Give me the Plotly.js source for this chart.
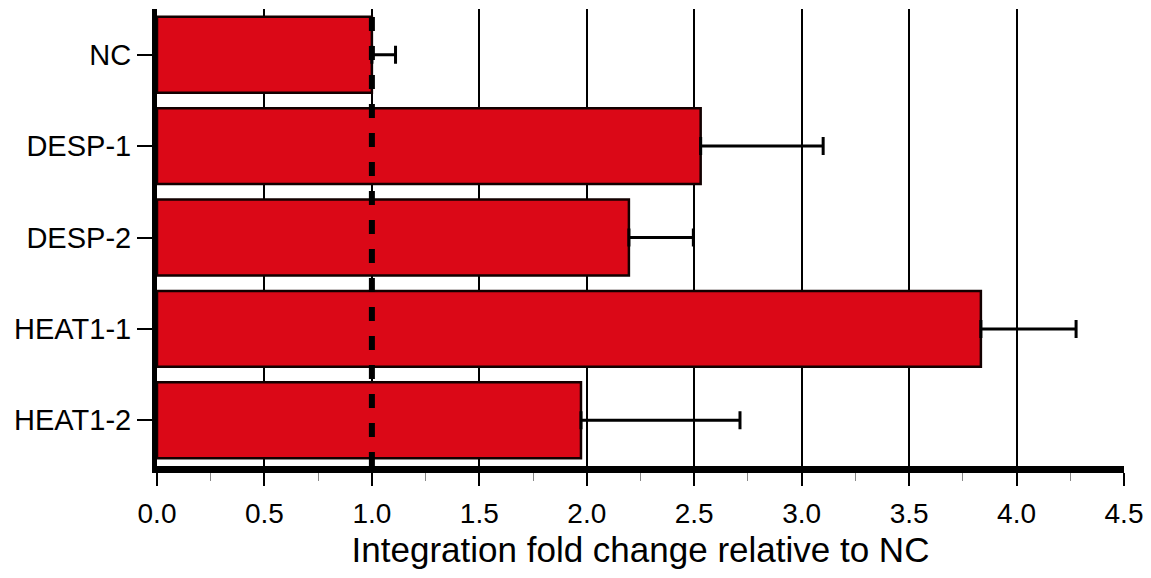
<!DOCTYPE html>
<html>
<head>
<meta charset="utf-8">
<script src="https://cdn.plot.ly/plotly-3.0.1.min.js"></script>
<style>html,body{margin:0;padding:0;background:#fff;}#chart{width:1151px;height:578px;}</style>
</head>
<body>
<div id="chart"></div>
<script>
const categories = ["NC", "DESP-1", "DESP-2", "HEAT1-1", "HEAT1-2"];
const foldChange = [1.0, 2.53, 2.196, 3.834, 1.973];
const errorPlus = [0.11, 0.57, 0.30, 0.443, 0.74];
const referenceValue = 1.0;
const xTickValues = [0, 0.5, 1, 1.5, 2, 2.5, 3, 3.5, 4, 4.5];
const xTickLabels = ["0.0", "0.5", "1.0", "1.5", "2.0", "2.5", "3.0", "3.5", "4.0", "4.5"];

const FONT = "Liberation Sans, Arial, Helvetica, sans-serif";

const trace = {
  type: "bar",
  orientation: "h",
  y: categories,
  x: foldChange,
  marker: { color: "#DB0817", line: { color: "#120000", width: 2.5 } },
  error_x: {
    type: "data",
    symmetric: false,
    array: errorPlus,
    arrayminus: categories.map(() => 0),
    color: "#000",
    thickness: 3,
    width: 9
  },
  hoverinfo: "skip"
};

const layout = {
  width: 1151,
  height: 578,
  margin: { l: 157, r: 27, t: 9, b: 112 },
  paper_bgcolor: "#fff",
  plot_bgcolor: "#fff",
  showlegend: false,
  bargap: 0.17,
  font: { family: FONT, color: "#000" },
  xaxis: {
    range: [0, 4.5],
    tickvals: xTickValues,
    ticktext: xTickLabels,
    tickfont: { family: FONT, size: 28, color: "#000" },
    ticks: "outside",
    ticklen: 13,
    tickwidth: 2,
    tickcolor: "#000",
    ticklabelstandoff: 3,
    showline: true,
    linecolor: "#000",
    linewidth: 7,
    showgrid: true,
    gridcolor: "#000",
    gridwidth: 2,
    zeroline: false,
    minor: { dtick: 0.25, tick0: 0, ticks: "outside", ticklen: 8, tickwidth: 1, tickcolor: "#888", showgrid: false },
    title: { text: "Integration fold change relative to NC", font: { family: FONT, size: 35, color: "#000" }, standoff: 12 }
  },
  yaxis: {
    type: "category",
    autorange: "reversed",
    tickfont: { family: FONT, size: 29, color: "#000" },
    ticks: "outside",
    ticklen: 15,
    tickwidth: 2,
    tickcolor: "#000",
    showline: true,
    linecolor: "#000",
    linewidth: 5,
    showgrid: false,
    zeroline: false
  },
  shapes: [{
    type: "line",
    xref: "x", yref: "paper",
    x0: referenceValue, x1: referenceValue, y0: 0, y1: 1,
    line: { color: "#000", width: 6, dash: "14px,15px" },
    layer: "above"
  }]
};

Plotly.newPlot("chart", [trace], layout, { displayModeBar: false, staticPlot: true });
</script>
</body>
</html>
